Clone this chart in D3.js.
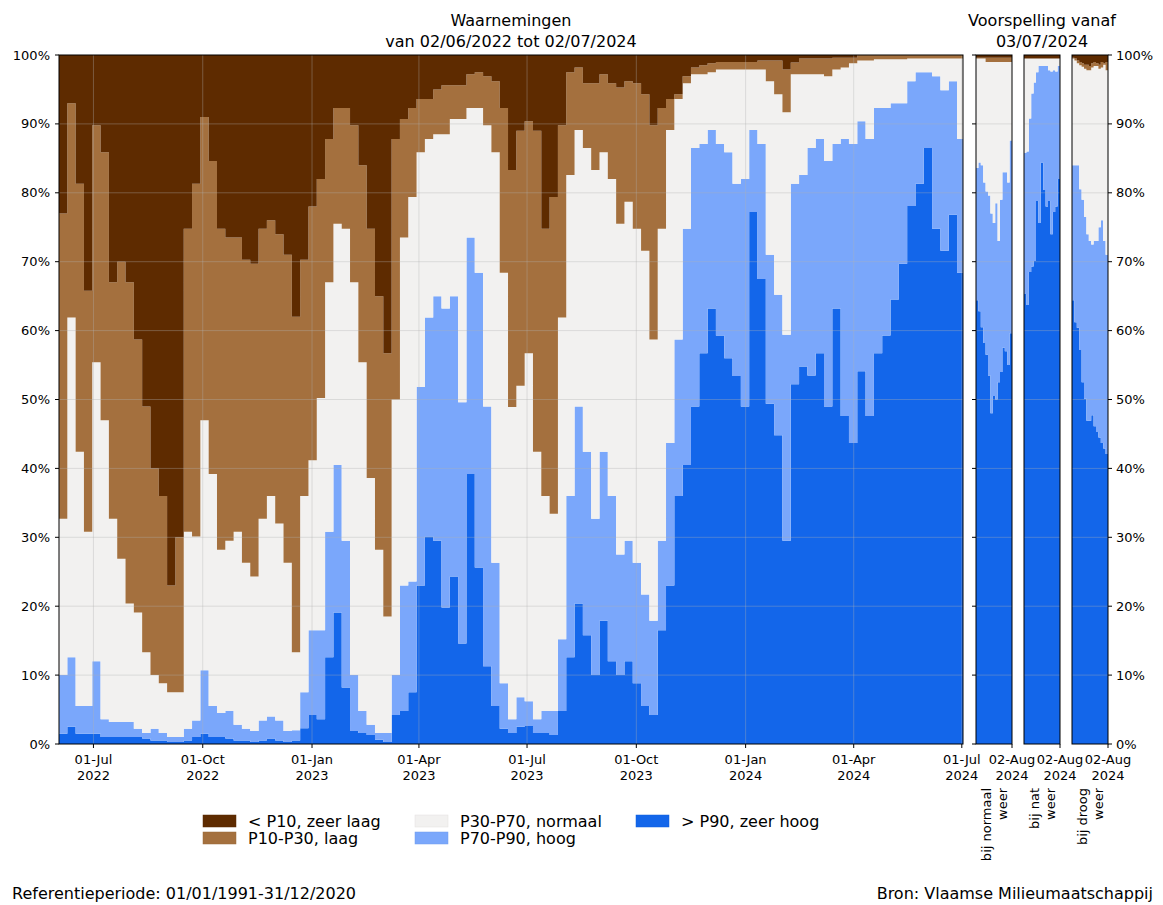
<!DOCTYPE html>
<html><head><meta charset="utf-8">
<script src="https://cdn.jsdelivr.net/npm/d3@7"></script>
<style>
body{margin:0;background:#fff}
text{font-family:"DejaVu Sans",sans-serif;fill:#000}
</style>
</head><body>
<svg id="chart" width="1163" height="905"></svg>
<script>
// ---------- DATA ----------
// Observations: one reading per week from 02/06/2022, last reading on 02/07/2024.
const obsStart = "2022-06-02";
const obsEnd = "2024-07-02";
const obsStepDays = 7;
// Cumulative share (%) of stations, from the bottom class up to the top of each class
const topZeerHoog = [1.5,2.5,1.5,1.5,1.5,1,1,1,1,1,0.8,0.5,0.5,0.3,0.3,0.5,1,1.5,1,1,0.8,0.5,0.5,0.3,0.5,0.8,0.5,0.3,0.5,
  2.3,4.2,3.6,12.6,19.1,8.2,1.9,1.6,1.3,0.6,0.3,4.2,4.8,7.5,23,30.1,29.5,19.8,24.3,14.6,39.2,25.6,11.3,5.5,2.2,1.6,2.5,
  2.6,1.6,1.6,1.3,4.8,12.6,20.4,15.8,10,17.9,12,10,12,8.8,5.5,4.2,16.5,23,36,40.5,49,56.7,63.2,59.3,56,53.4,49,77.2,
  67.5,49.4,44.8,29.5,52.2,54.8,53.5,56.7,49,63.2,47.6,43.7,54.1,47.6,56.7,59.3,64.5,69.7,78.1,81.3,86.5,74.8,71.6,76.8,68.4,65.8];
const topHoog = [10,12.6,5.5,5.5,12,3.6,3.2,3.2,3.2,2.2,1.6,2.2,1.6,1,1,2.2,3.4,10.7,5.5,4.5,4.8,2.8,2.2,1.9,3.4,4,3.4,1.9,2,
  7.5,16.5,16.5,30.8,40.5,29.5,10,4.8,2.8,1.6,1.6,10,23,23.6,51.8,61.9,65,63.2,65,49.6,73.5,68.4,49,26.3,8.8,3.6,6.8,
  6.2,3.6,4.8,4.8,15.2,36,49,42.4,32.7,42.4,36,27.5,29.5,26.3,21.7,17.9,29.5,43.7,58.7,74.8,86.5,87.1,89.1,87.1,85.9,81.3,82,89.1,
  87.1,71,65.2,59.4,81.3,82.6,86.5,87.8,84.6,87.1,87.8,87.1,90.4,87.8,92.3,92.3,93,93,96.2,97.5,97.5,96.9,94.9,96.2,87.8,85.1];
const topNormaal = [32.7,61.9,42.4,30.8,55.4,47,32.7,26.9,20.4,19.1,13.3,10,8.8,7.5,7.5,30.8,30.1,47,39.2,28.2,29.5,30.8,26.3,24.3,32.7,36,32,26.3,13.3,
  36,41.2,50.2,67,75.5,74.8,67,55.4,38.6,28.2,18.5,50,73.5,79.4,85.9,87.8,88.5,88.5,90.7,90.7,92.3,92.3,89.8,85.9,68.4,48.9,52,
  56.7,42.4,36,33.4,61.9,82.6,89.1,86.5,83.3,85.9,82,75.5,78.7,74.8,71.6,58.7,74.8,89.1,93.6,95.9,97.2,97.2,97.5,97.9,97.9,97.9,97.9,97.9,
  97.9,96.2,94.3,91.7,97.2,97.2,97.2,97.2,96.9,97.9,98.2,98.8,99.2,99.2,99.4,99.4,99.4,99.4,99.5,99.5,99.5,99.5,99.5,99.5,99.5,99.5];
const topLaag = [77,93,81.3,65.8,89.8,85.9,67,70,67,58.7,49,40,36,23,30,74.8,81.3,91,84.6,74.8,73.5,73.5,70.3,69.7,74.8,76,74,71,62,
  70.3,78,82,87.8,92.3,92.3,89.8,84,74.8,65,56.7,87.8,90.7,92.3,93.6,93.6,95,95.6,95.6,95.6,97.2,97.5,96.9,96.2,92.3,83.3,89,
  90.4,89,74.8,79.4,89.8,97.5,98.2,95.9,95.9,97.2,95.9,95.3,96.2,95.9,94.3,89.8,92.3,93.6,94.3,96.9,98.2,98.5,98.8,99,99,99,99,99,
  99.2,99.2,99.2,97.9,98.9,99.5,99.5,99.5,99.5,99.6,99.6,99.6,100,100,100,100,100,100,100,100,100,100,100,100,100,100];

// Forecasts: one reading every 2 days from 03/07/2024 to 02/08/2024
const fcStart = "2024-07-03";
const fcEnd = "2024-08-02";
const fcStepDays = 2;
const normaalZeerHoog = [64.4,62.8,60.5,58.2,56.5,53.5,48,50.5,50,52.5,54,57.5,57,55,59.6,55.5];
const normaalHoog     = [83.6,84.4,84,81.5,80.2,79.6,77,75.6,78.5,73,79,83,83,81.5,87.6,83];
const normaalNormaal  = [99.5,99.5,99.5,99.5,99,99,99,99,99,99,99,99,99,99,99,99];
const normaalLaag     = [99.6,99.6,99.6,99.6,99.6,99.6,99.6,99.6,99.6,99.6,99.6,99.6,99.6,99.6,99.6,99.6];
const natZeerHoog = [65.3,63.7,68.5,69.3,70.1,78.8,75.6,84.4,80.4,78,78.8,74,77.2,78,82,86.8];
const natHoog     = [85.8,86,90.8,94.4,96,97.5,98.4,98.4,98.4,98.4,97.8,97.6,97.8,97.6,98.4,98.4];
const natNormaal  = [99.5,99.5,99.5,99.5,99.5,99.5,99.5,99.5,99.5,99.5,99.5,99.5,99.5,99.5,99.5,99.5];
const natLaag     = [99.5,99.5,99.5,99.5,99.5,99.5,99.5,99.5,99.5,99.5,99.5,99.5,99.5,99.5,99.5,99.5];
const droogZeerHoog = [64.4,61.2,60.4,57.2,52.5,50.1,46.9,46.9,47.7,46.1,45.3,44.5,43.7,42.9,42.1,41.3];
const droogHoog     = [84,84,84,80.5,79,76.5,74,73,72.5,73,73,75,76,73,71,71.5];
const droogNormaal  = [99.5,99.2,98.8,98.5,98.3,98,97.8,97.8,98.2,98.4,98.4,98,98.2,98.6,97.8,97.6];
const droogLaag     = [99.6,99.5,99.2,99,98.8,98.6,98.6,98.4,98.8,99,98.8,98.6,99,98.8,99,99];

const classKeys = ["zeerHoog","hoog","normaal","laag","zeerLaag"];
const classColors = ["#1366ea","#7aa7fb","#f2f1f0","#a4703e","#5e2b00"];
const legendLabels = ["< P10, zeer laag","P10-P30, laag","P30-P70, normaal","P70-P90, hoog","> P90, zeer hoog"];
const legendColors = ["#5e2b00","#a4703e","#f2f1f0","#7aa7fb","#1366ea"];
const yTickValues = [0,10,20,30,40,50,60,70,80,90,100];
const panelLabels = [["bij normaal","weer"],["bij nat","weer"],["bij droog","weer"]];

// ---------- HELPERS ----------
const parse = d3.utcParse("%Y-%m-%d");
function buildRows(start, step, end, b1, b2, b3, b4) {
  const s = parse(start);
  const rows = b1.map((v, i) => ({
    date: d3.utcDay.offset(s, step * i),
    zeerHoog: b1[i], hoog: b2[i] - b1[i], normaal: b3[i] - b2[i],
    laag: b4[i] - b3[i], zeerLaag: 100 - b4[i]
  }));
  const last = rows[rows.length - 1];
  const e = parse(end);
  if (+last.date < +e) rows.push(Object.assign({}, last, {date: e}));
  else rows[rows.length - 1] = Object.assign({}, last, {date: e});
  return rows;
}

const svg = d3.select("#chart");
const yTop = 55, yBot = 744;
const tickFont = "13px", bigFont = "16px";
const y = d3.scaleLinear().domain([0, 100]).range([yBot, yTop]);
const stack = d3.stack().keys(classKeys);
const fmtDay = d3.utcFormat("%d-%b"), fmtYear = d3.utcFormat("%Y");

function drawPanel(x, rows, opts) {
  const g = svg.append("g");
  const series = stack(rows);
  const area = d3.area().curve(d3.curveStepAfter)
    .x(d => x(d.data.date)).y0(d => y(d[0])).y1(d => y(d[1]));
  g.selectAll("path.a").data(series).join("path")
    .attr("d", area).attr("fill", (d, i) => classColors[i]).attr("stroke", "none");
  const [x0, x1] = x.range();
  // grid
  g.selectAll("line.gy").data(yTickValues.slice(1, -1)).join("line")
    .attr("x1", x0).attr("x2", x1).attr("y1", d => y(d)).attr("y2", d => y(d))
    .attr("stroke", "#b0b0b0").attr("stroke-opacity", 0.45).attr("stroke-width", 0.8);
  if (opts.xTicks) {
    g.selectAll("line.gx").data(opts.xTicks.filter(t => x(t) > x0 + 1 && x(t) < x1 - 1)).join("line")
      .attr("x1", d => x(d)).attr("x2", d => x(d)).attr("y1", yTop).attr("y2", yBot)
      .attr("stroke", "#b0b0b0").attr("stroke-opacity", 0.45).attr("stroke-width", 0.8);
  }
  // frame
  g.append("rect").attr("x", x0).attr("y", yTop).attr("width", x1 - x0).attr("height", yBot - yTop)
    .attr("fill", "none").attr("stroke", "#000").attr("stroke-width", 1);
  // x ticks
  const xt = opts.xTicks || [];
  const tk = g.selectAll("g.xt").data(xt).join("g").attr("transform", d => `translate(${x(d)},${yBot})`);
  tk.append("line").attr("y1", 0).attr("y2", 4).attr("stroke", "#000");
  const tt = tk.append("text").attr("text-anchor", "middle").style("font-size", tickFont);
  tt.append("tspan").attr("x", 0).attr("y", 19.5).text(d => fmtDay(d));
  tt.append("tspan").attr("x", 0).attr("y", 36).text(d => fmtYear(d));
  // y ticks
  if (opts.leftTicks) {
    g.selectAll("line.yt").data(yTickValues).join("line")
      .attr("x1", x0 - 4).attr("x2", x0).attr("y1", d => y(d)).attr("y2", d => y(d)).attr("stroke", "#000");
  }
  if (opts.leftLabels) {
    g.selectAll("text.yl").data(yTickValues).join("text")
      .attr("x", x0 - 9).attr("y", d => y(d)).attr("dy", "0.35em").attr("text-anchor", "end")
      .style("font-size", tickFont).text(d => d + "%");
  }
  if (opts.rightLabels) {
    g.selectAll("line.yr").data(yTickValues).join("line")
      .attr("x1", x1).attr("x2", x1 + 4).attr("y1", d => y(d)).attr("y2", d => y(d)).attr("stroke", "#000");
    g.selectAll("text.yr").data(yTickValues).join("text")
      .attr("x", x1 + 8).attr("y", d => y(d)).attr("dy", "0.35em").attr("text-anchor", "start")
      .style("font-size", tickFont).text(d => d + "%");
  }
  if (opts.label) {
    const cx = (x0 + x1) / 2;
    opts.label.forEach((line, i) => {
      const bx = cx - 3.5 + i * 16.5;
      g.append("text").attr("transform", `translate(${bx},788) rotate(-90)`)
        .attr("text-anchor", "end").style("font-size", tickFont).text(line);
    });
  }
}

// ---------- MAIN PANEL ----------
const obsRows = buildRows(obsStart, obsStepDays, obsEnd, topZeerHoog, topHoog, topNormaal, topLaag);
const xMain = d3.scaleUtc().domain([parse(obsStart), parse(obsEnd)]).range([59, 963]);
drawPanel(xMain, obsRows, {
  xTicks: d3.utcMonth.every(3).range(parse(obsStart), d3.utcDay.offset(parse(obsEnd), 1)),
  leftTicks: true, leftLabels: true
});

// ---------- FORECAST PANELS ----------
const fcSets = [
  [normaalZeerHoog, normaalHoog, normaalNormaal, normaalLaag],
  [natZeerHoog, natHoog, natNormaal, natLaag],
  [droogZeerHoog, droogHoog, droogNormaal, droogLaag]
];
const panelX = [[976, 1012], [1024, 1060], [1072, 1108]];
fcSets.forEach((s, i) => {
  const rows = buildRows(fcStart, fcStepDays, fcEnd, s[0], s[1], s[2], s[3]);
  const xf = d3.scaleUtc().domain([parse(fcStart), parse(fcEnd)]).range(panelX[i]);
  drawPanel(xf, rows, {
    xTicks: [parse(fcEnd)],
    leftTicks: i === 0,
    rightLabels: i === 2,
    label: panelLabels[i]
  });
});

// ---------- TITLES ----------
function title(cx, lines) {
  lines.forEach((t, i) => svg.append("text").attr("x", cx).attr("y", 26 + i * 20.5)
    .attr("text-anchor", "middle").style("font-size", bigFont).text(t));
}
title(511, ["Waarnemingen", "van 02/06/2022 tot 02/07/2024"]);
title(1042, ["Voorspelling vanaf", "03/07/2024"]);

// ---------- LEGEND ----------
const legPos = [[203, 0], [203, 1], [415, 0], [415, 1], [636, 0]];
legendLabels.forEach((lab, i) => {
  const [lx, row] = legPos[i];
  const ly = 815 + row * 17;
  svg.append("rect").attr("x", lx).attr("y", ly).attr("width", 33).attr("height", 12)
    .attr("fill", legendColors[i]).attr("stroke", d3.color(legendColors[i]).darker(0.2)).attr("stroke-width", 0.5);
  svg.append("text").attr("x", lx + 45).attr("y", ly + 6).attr("dy", "0.35em")
    .style("font-size", bigFont).text(lab);
});

// ---------- FOOTER ----------
svg.append("text").attr("x", 12).attr("y", 899).style("font-size", bigFont)
  .text("Referentieperiode: 01/01/1991-31/12/2020");
svg.append("text").attr("x", 1153).attr("y", 899).attr("text-anchor", "end").style("font-size", bigFont)
  .text("Bron: Vlaamse Milieumaatschappij");
</script>
</body></html>
